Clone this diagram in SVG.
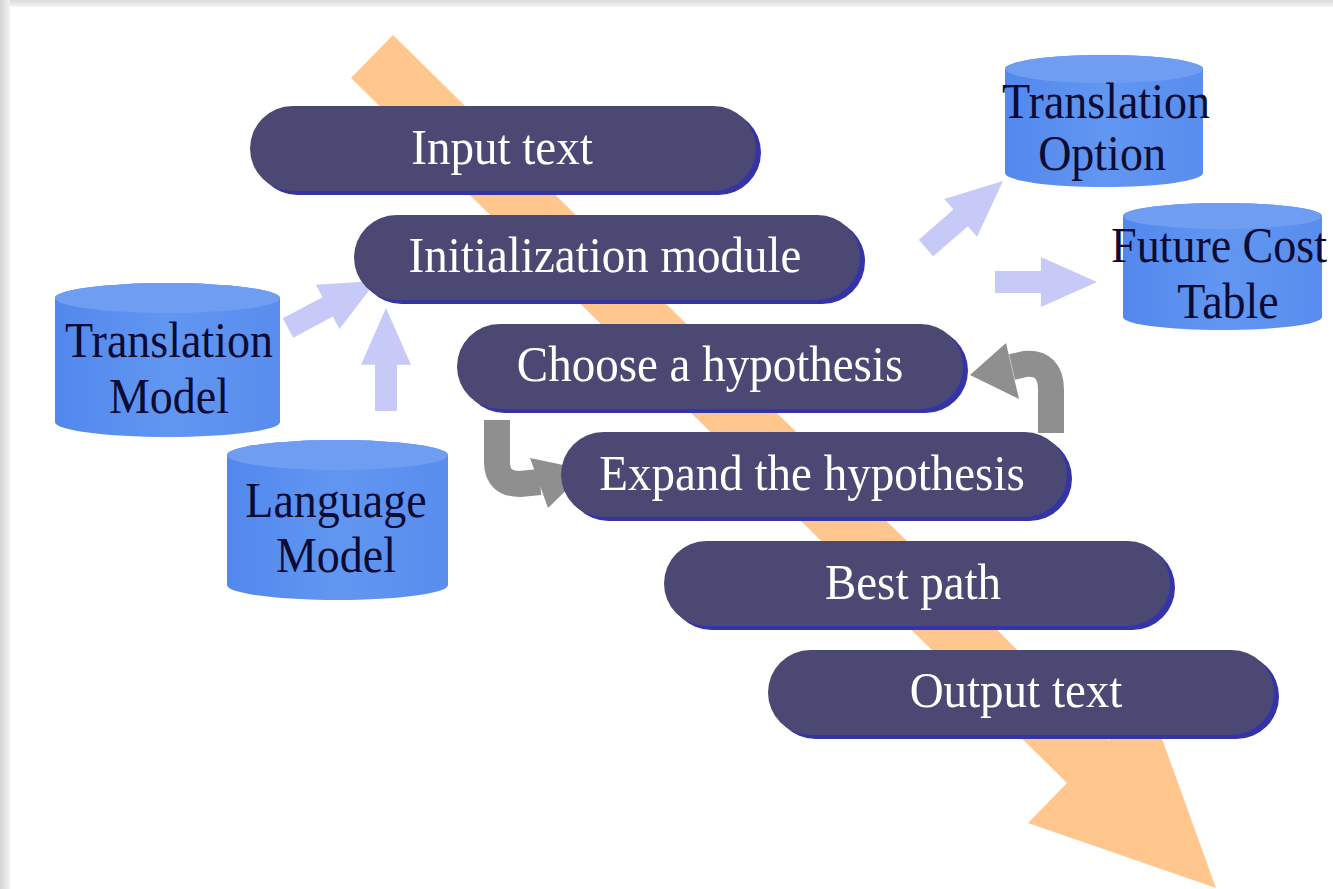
<svg xmlns="http://www.w3.org/2000/svg" width="1333" height="889" viewBox="0 0 1333 889">
<defs>
<style>
.pill{fill:#4B4973}
.rim{fill:#3434A8}
.pt{font-family:"Liberation Serif","Times New Roman",serif;font-size:47px;fill:#FFFFFF;text-anchor:middle}
.ct{font-family:"Liberation Serif","Times New Roman",serif;font-size:46px;fill:#0B0B33;text-anchor:middle}
.cyl{fill:url(#cylg)}
.top{fill:#6E9DF2}
.la{fill:#C7C9F6}
.ga{fill:none;stroke:#8F8F8F;stroke-width:26}
.gh{fill:#8F8F8F}
</style>
<linearGradient id="cylg" x1="0" y1="0" x2="1" y2="0">
<stop offset="0" stop-color="#5288ED"/>
<stop offset="0.5" stop-color="#6196F1"/>
<stop offset="1" stop-color="#598DEE"/>
</linearGradient>
<linearGradient id="leftg" x1="0" y1="0" x2="1" y2="0">
<stop offset="0" stop-color="#D4D4D4"/>
<stop offset="1" stop-color="#F2F2F2"/>
</linearGradient>
<linearGradient id="topg" x1="0" y1="0" x2="0" y2="1">
<stop offset="0" stop-color="#DADADA"/>
<stop offset="1" stop-color="#F6F6F6"/>
</linearGradient>
<path id="blk" d="M0,-11 H45 V-25 L100,0 L45,25 V11 H0 Z"/>
</defs>

<rect x="0" y="0" width="1333" height="889" fill="#FFFFFF"/>
<rect x="0" y="0" width="1333" height="7" fill="url(#topg)"/>
<rect x="0" y="0" width="10" height="889" fill="url(#leftg)"/>

<g id="flow">
<polygon points="393,35 351,78 1067,783 1028,823 1216,888 1148,700 1109,740" fill="#FFC78E"/>
</g>

<g id="connectors">
<use href="#blk" class="la" transform="translate(288,328) rotate(-28)"/>
<use href="#blk" class="la" transform="translate(386,411) rotate(-90) scale(1.03,1)"/>
<use href="#blk" class="la" transform="translate(926,248) rotate(-41) scale(1.02,1)"/>
<use href="#blk" class="la" transform="translate(995,282) scale(1.02,1)"/>
<path class="ga" d="M497,420 V462 Q497,484 520,484 L540,482"/>
<polygon class="gh" points="530,458 587,470 548,508"/>
<path class="ga" d="M1051,433 V390 Q1051,362 1025,364 L1012,367"/>
<polygon class="gh" points="1006,343 970,375 1019,399"/>
</g>

<g id="node-input">
<rect class="rim" x="255" y="110" width="506" height="85" rx="42.5"/>
<rect class="pill" x="250" y="106" width="506" height="85" rx="42.5"/>
<text class="pt" transform="translate(502,164) scale(1,1.08)">Input text</text>
</g>
<g id="node-init">
<rect class="rim" x="359" y="219" width="506" height="85" rx="42.5"/>
<rect class="pill" x="354" y="215" width="506" height="85" rx="42.5"/>
<text class="pt" transform="translate(605,272) scale(1,1.08)">Initialization module</text>
</g>
<g id="node-choose">
<rect class="rim" x="462" y="328" width="506" height="85" rx="42.5"/>
<rect class="pill" x="457" y="324" width="506" height="85" rx="42.5"/>
<text class="pt" transform="translate(710,381) scale(1,1.08)">Choose a hypothesis</text>
</g>
<g id="node-expand">
<rect class="rim" x="566" y="436" width="506" height="85" rx="42.5"/>
<rect class="pill" x="561" y="432" width="506" height="85" rx="42.5"/>
<text class="pt" transform="translate(812,490) scale(1,1.08)">Expand the hypothesis</text>
</g>
<g id="node-best">
<rect class="rim" x="669" y="545" width="506" height="85" rx="42.5"/>
<rect class="pill" x="664" y="541" width="506" height="85" rx="42.5"/>
<text class="pt" transform="translate(913,599) scale(1,1.08)">Best path</text>
</g>
<g id="node-output">
<rect class="rim" x="773" y="654" width="506" height="85" rx="42.5"/>
<rect class="pill" x="768" y="650" width="506" height="85" rx="42.5"/>
<text class="pt" transform="translate(1016,707) scale(1,1.08)">Output text</text>
</g>

<g id="db-translation-model">
<path class="cyl" d="M55,298 A112.5,15 0 0 1 280,298 V422 A112.5,15 0 0 1 55,422 Z"/>
<ellipse class="top" cx="167.5" cy="298" rx="112.5" ry="15"/>
<text class="ct" transform="translate(169,357) scale(1,1.08)">Translation</text>
<text class="ct" transform="translate(169,413) scale(1,1.08)">Model</text>
</g>
<g id="db-language-model">
<path class="cyl" d="M227,455 A110.5,15 0 0 1 448,455 V585 A110.5,15 0 0 1 227,585 Z"/>
<ellipse class="top" cx="337.5" cy="455" rx="110.5" ry="15"/>
<text class="ct" transform="translate(336,517) scale(1,1.08)">Language</text>
<text class="ct" transform="translate(336,572) scale(1,1.08)">Model</text>
</g>
<g id="db-translation-option">
<path class="cyl" d="M1005,69 A99,14 0 0 1 1203,69 V173 A99,14 0 0 1 1005,173 Z"/>
<ellipse class="top" cx="1104" cy="69" rx="99" ry="14"/>
<text class="ct" transform="translate(1106,118) scale(1,1.08)">Translation</text>
<text class="ct" transform="translate(1102,170) scale(1,1.08)">Option</text>
</g>
<g id="db-future-cost">
<path class="cyl" d="M1123,216 A99.5,13 0 0 1 1322,216 V317 A99.5,13 0 0 1 1123,317 Z"/>
<ellipse class="top" cx="1222.5" cy="216" rx="99.5" ry="13"/>
<text class="ct" transform="translate(1219,262) scale(1,1.08)">Future Cost</text>
<text class="ct" transform="translate(1228,318) scale(1,1.08)">Table</text>
</g>
</svg>
